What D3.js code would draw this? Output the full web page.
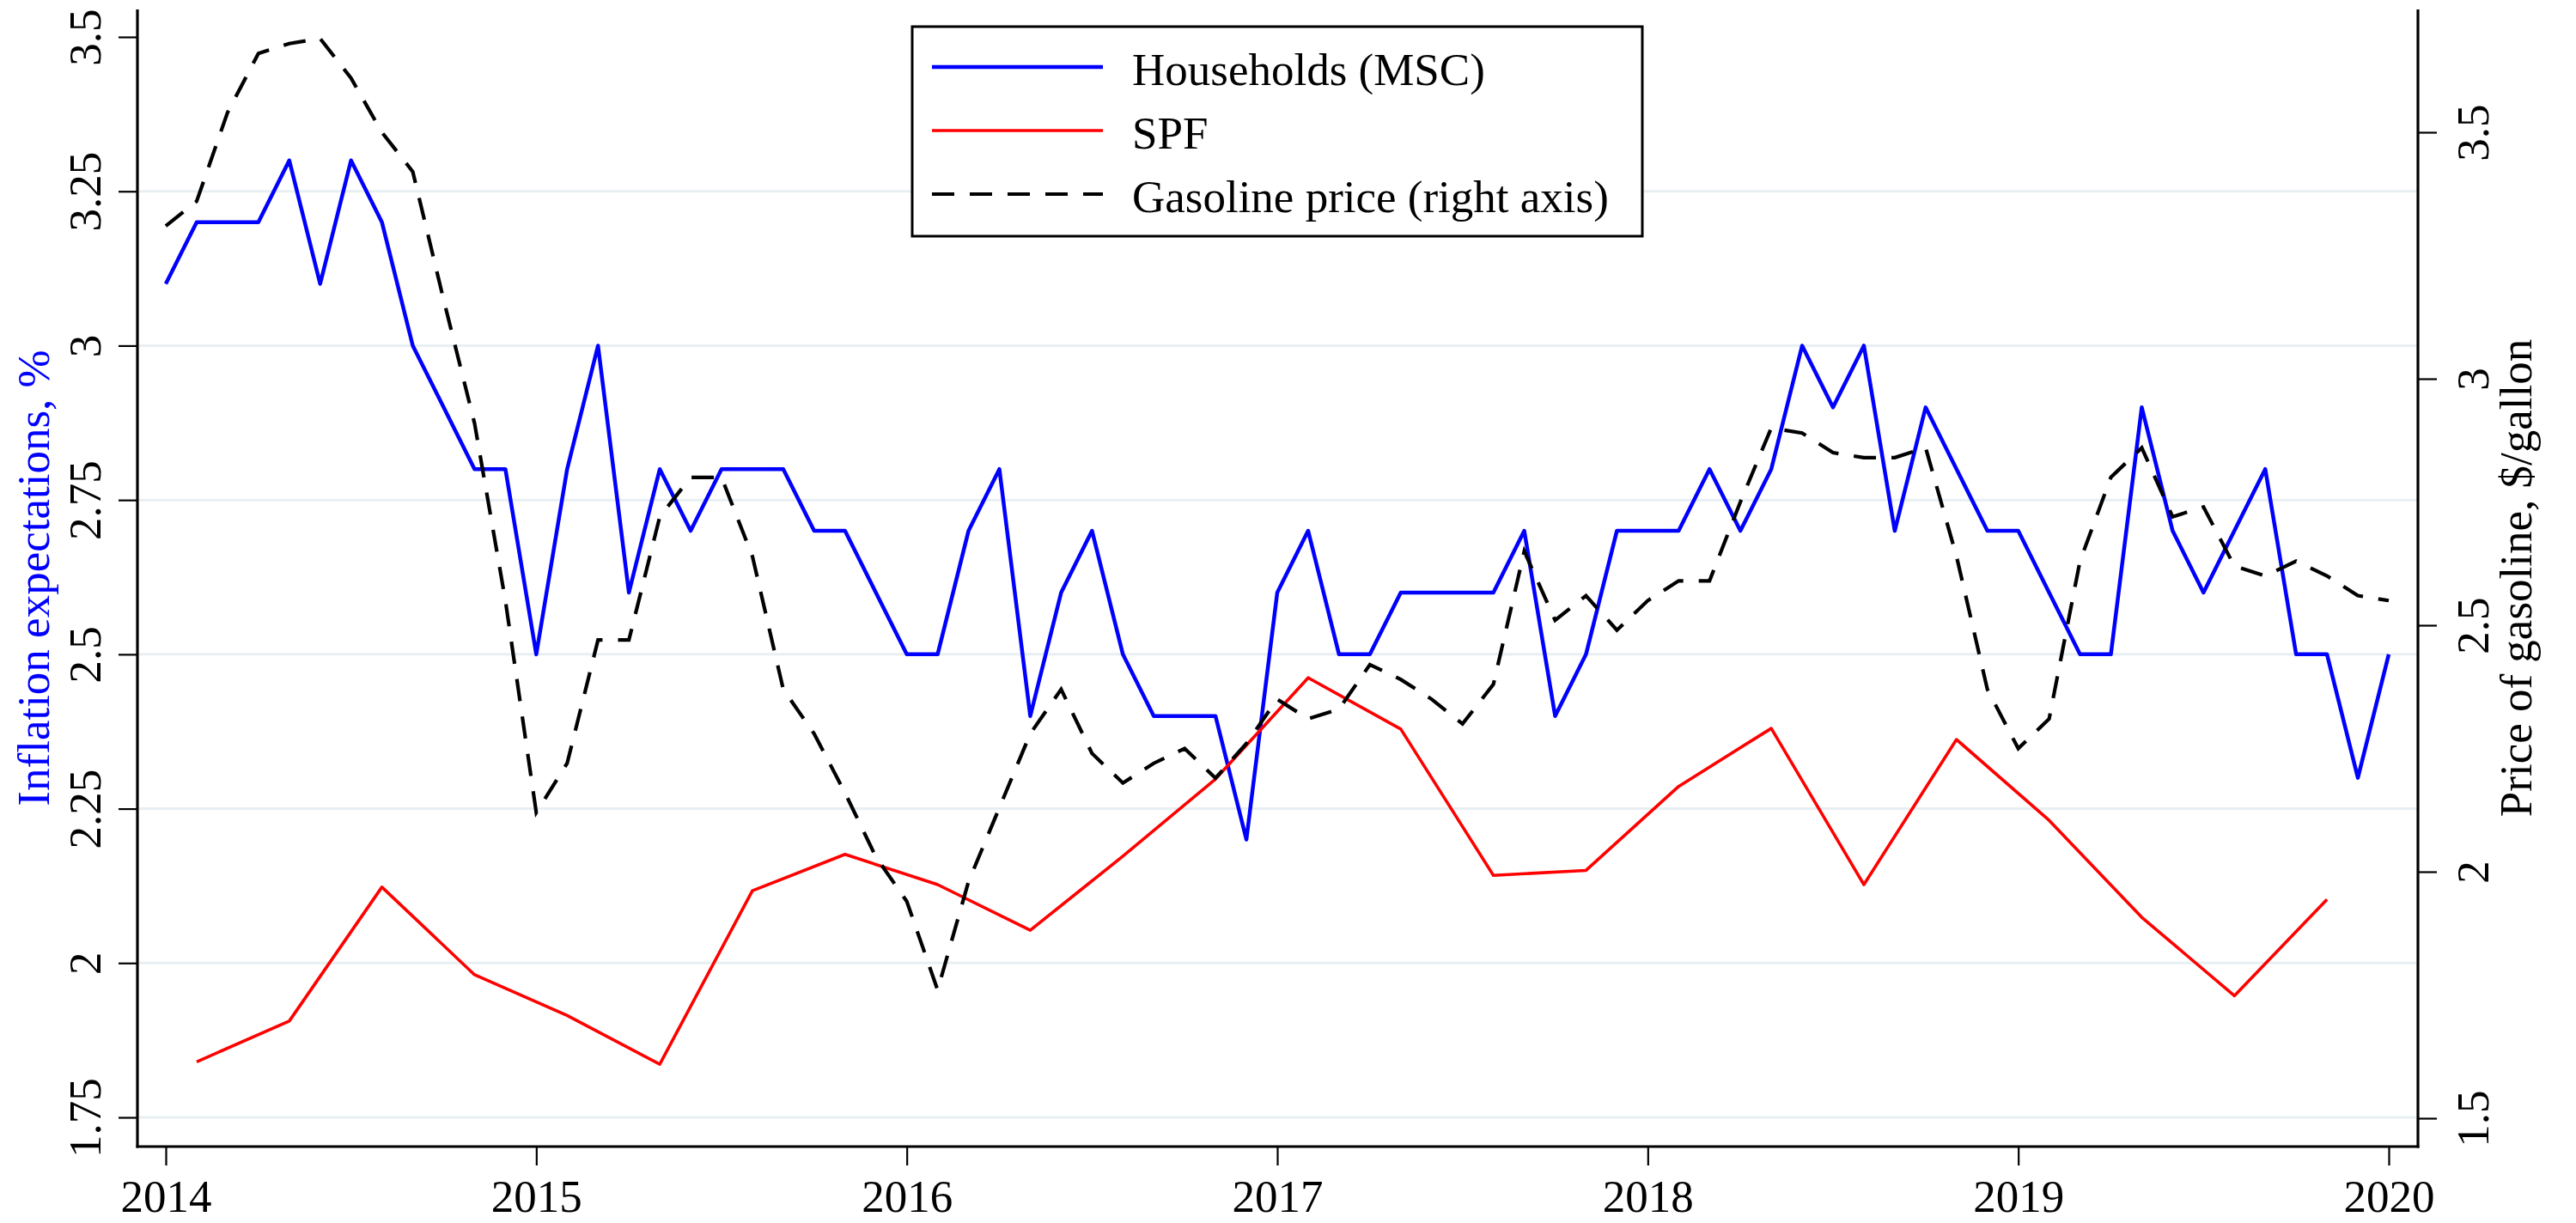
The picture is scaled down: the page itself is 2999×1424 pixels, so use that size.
<!DOCTYPE html>
<html><head><meta charset="utf-8">
<script src="https://cdn.jsdelivr.net/npm/d3@7"></script>
<style>
html,body{margin:0;padding:0;background:#fff;}
svg{display:block;}
text{font-family:"Liberation Serif","Times New Roman",serif;}
</style>
</head><body>
<svg id="chart" width="2999" height="1424"></svg>
<script>
// ---- Data ----
const startYear = 2014; // monthly series start at 2014m1
const householdsMSC = [3.1,3.2,3.2,3.2,3.3,3.1,3.3,3.2,3.0,2.9,2.8,2.8,
  2.5,2.8,3.0,2.6,2.8,2.7,2.8,2.8,2.8,2.7,2.7,2.6,
  2.5,2.5,2.7,2.8,2.4,2.6,2.7,2.5,2.4,2.4,2.4,2.2,
  2.6,2.7,2.5,2.5,2.6,2.6,2.6,2.6,2.7,2.4,2.5,2.7,
  2.7,2.7,2.8,2.7,2.8,3.0,2.9,3.0,2.7,2.9,2.8,2.7,
  2.7,2.6,2.5,2.5,2.9,2.7,2.6,2.7,2.8,2.5,2.5,2.3,
  2.5];
const gasolinePrice = [3.31,3.36,3.54,3.66,3.68,3.69,3.61,3.50,3.42,3.16,2.91,2.55,
  2.12,2.22,2.47,2.47,2.72,2.80,2.80,2.64,2.37,2.28,2.16,2.03,
  1.94,1.76,1.98,2.13,2.28,2.37,2.24,2.18,2.22,2.25,2.19,2.26,
  2.35,2.31,2.33,2.42,2.39,2.35,2.30,2.38,2.65,2.51,2.56,2.49,
  2.55,2.59,2.59,2.75,2.90,2.89,2.85,2.84,2.84,2.86,2.64,2.37,
  2.25,2.31,2.63,2.80,2.86,2.72,2.74,2.62,2.60,2.63,2.60,2.56,
  2.55];
const spfDates = ["2014-02","2014-05","2014-08","2014-11","2015-02","2015-05","2015-08","2015-11",
  "2016-02","2016-05","2016-08","2016-11","2017-02","2017-05","2017-08","2017-11",
  "2018-02","2018-05","2018-08","2018-11","2019-02","2019-05","2019-08","2019-11"];
const spfValues = [1.84,1.906,2.123,1.981,1.915,1.836,2.117,2.176,
  2.127,2.053,2.173,2.298,2.462,2.379,2.142,2.15,
  2.286,2.38,2.127,2.362,2.231,2.074,1.947,2.103];
const yearTicks = [2014,2015,2016,2017,2018,2019,2020];
const leftTicks = [1.75,2,2.25,2.5,2.75,3,3.25,3.5];
const rightTicks = [1.5,2,2.5,3,3.5];
const seriesNames = ["Households (MSC)","SPF","Gasoline price (right axis)"];
const leftTitle = "Inflation expectations, %";
const rightTitle = "Price of gasoline, $/gallon";

// ---- Layout ----
const FS = 53;
const plot = {left:160, right:2815, top:11, bottom:1335};
const blue = "#0000ff", red = "#ff0000", black = "#000000";
const dash = "26,18";

const svg = d3.select("#chart");
svg.append("rect").attr("width",2999).attr("height",1424).attr("fill","#fff");

const x = d3.scaleLinear().domain([2014,2020]).range([193,2781]);
const yL = d3.scaleLinear().domain([1.75,3.5]).range([1301,43]);
const yR = d3.scaleLinear().domain([1.5,3.5]).range([1302,154]);

const monthT = i => startYear + i/12;
const parseYM = s => { const [y,m] = s.split("-").map(Number); return y + (m-1)/12; };

// gridlines
svg.append("g").selectAll("line").data(leftTicks.filter(d => d < 3.5)).join("line")
  .attr("x1",plot.left).attr("x2",plot.right)
  .attr("y1",d=>yL(d)).attr("y2",d=>yL(d))
  .attr("stroke","#e8eff3").attr("stroke-width",3);

// axes
function styleAxis(g){
  g.select(".domain").remove();
  g.selectAll(".tick line").attr("stroke","#000").attr("stroke-width",2.2);
  g.selectAll(".tick text").attr("fill","#000").style("font-size",FS+"px")
    .style("font-family","'Liberation Serif','Times New Roman',serif");
}
const gx = svg.append("g").attr("transform",`translate(0,${plot.bottom})`)
  .call(d3.axisBottom(x).tickValues(yearTicks).tickFormat(d3.format("d")).tickSize(22));
styleAxis(gx);
gx.selectAll(".tick text").attr("y",76).attr("dy",null);

const gl = svg.append("g").attr("transform",`translate(${plot.left},0)`)
  .call(d3.axisLeft(yL).tickValues(leftTicks).tickFormat(d=>String(d)).tickSize(22));
styleAxis(gl);
gl.selectAll(".tick text").attr("x",null).attr("dy",null)
  .attr("text-anchor","middle").attr("transform","translate(-43,0) rotate(-90)");

const gr = svg.append("g").attr("transform",`translate(${plot.right},0)`)
  .call(d3.axisRight(yR).tickValues(rightTicks).tickFormat(d=>String(d)).tickSize(22));
styleAxis(gr);
gr.selectAll(".tick text").attr("x",null).attr("dy",null)
  .attr("text-anchor","middle").attr("transform","translate(82,0) rotate(-90)");

// axis lines
const axisLines = [
  [plot.left,plot.top,plot.left,plot.bottom+1.5],
  [plot.right,plot.top,plot.right,plot.bottom+1.5],
  [plot.left-1.5,plot.bottom,plot.right+1.5,plot.bottom]
];
svg.append("g").selectAll("line").data(axisLines).join("line")
  .attr("x1",d=>d[0]).attr("y1",d=>d[1]).attr("x2",d=>d[2]).attr("y2",d=>d[3])
  .attr("stroke","#000").attr("stroke-width",3.2);

// axis titles
svg.append("text").text(leftTitle).attr("fill",blue).style("font-size",FS+"px")
  .attr("text-anchor","middle").attr("transform",`translate(57,${(plot.top+plot.bottom)/2}) rotate(-90)`);
svg.append("text").text(rightTitle).attr("fill","#000").style("font-size",FS+"px")
  .attr("text-anchor","middle").attr("transform",`translate(2947,${(plot.top+plot.bottom)/2}) rotate(-90)`);

// series
const hhData = householdsMSC.map((v,i)=>({t:monthT(i), v}));
const gasData = gasolinePrice.map((v,i)=>({t:monthT(i), v}));
const spfData = spfDates.map((d,i)=>({t:parseYM(d), v:spfValues[i]}));

const lineL = d3.line().x(d=>x(d.t)).y(d=>yL(d.v));
const lineR = d3.line().x(d=>x(d.t)).y(d=>yR(d.v));

svg.append("path").datum(hhData).attr("d",lineL).attr("fill","none")
  .attr("stroke",blue).attr("stroke-width",4.5).attr("stroke-linejoin","round");
svg.append("path").datum(spfData).attr("d",lineL).attr("fill","none")
  .attr("stroke",red).attr("stroke-width",3.6).attr("stroke-linejoin","round");
svg.append("path").datum(gasData).attr("d",lineR).attr("fill","none")
  .attr("stroke",black).attr("stroke-width",4.2).attr("stroke-dasharray",dash);

// legend
const leg = svg.append("g");
leg.append("rect").attr("x",1062).attr("y",31).attr("width",850).attr("height",244)
  .attr("fill","#fff").attr("stroke","#000").attr("stroke-width",3);
const legItems = [
  {name:seriesNames[0], color:blue, w:4.5, dash:null},
  {name:seriesNames[1], color:red, w:3.6, dash:null},
  {name:seriesNames[2], color:black, w:4.2, dash:dash}
];
const legRow = d3.scalePoint().domain(d3.range(legItems.length)).range([78,226]);
const li = leg.selectAll("g.item").data(legItems).join("g").attr("class","item")
  .attr("transform",(d,i)=>`translate(0,${legRow(i)})`);
li.append("line").attr("x1",1085).attr("x2",1284).attr("y1",0).attr("y2",0)
  .attr("stroke",d=>d.color).attr("stroke-width",d=>d.w).attr("stroke-dasharray",d=>d.dash);
li.append("text").attr("x",1318).attr("y",21).text(d=>d.name).attr("fill","#000").style("font-size",FS+"px");
</script>
</body></html>
